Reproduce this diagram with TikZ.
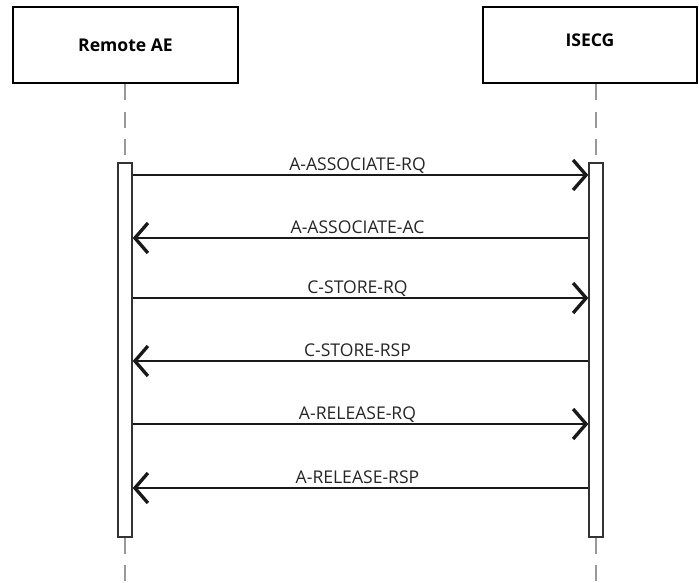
\documentclass[tikz,border=0pt]{standalone}
\usepackage{fontspec}
\setmainfont{Open Sans}
\usetikzlibrary{arrows.meta}
\tikzset{
  actor/.style={draw=black, line width=1.4pt, fill=white, font=\fontsize{10}{12}\selectfont\bfseries, minimum height=1.52cm, inner sep=0pt},
  activity/.style={draw=black!80, line width=0.8pt, fill=white, minimum width=0.28cm, minimum height=7.48cm, inner sep=0pt},
  lifeline/.style={draw=black!40, line width=1.1pt, dash pattern=on 0.32cm off 0.23cm},
  msg/.style={line width=1.5pt, draw=black!90},
  toright/.style={-{Straight Barb[length=0.26cm, width=0.6cm, line width=1.9pt]}},
  toleft/.style={{Straight Barb[length=0.26cm, width=0.6cm, line width=1.9pt]}-},
  msglabel/.style={font=\fontsize{10}{12}\selectfont, text=black!85, anchor=base, inner sep=0pt, yshift=0.1cm}
}
\begin{document}
\begin{tikzpicture}[x=0.02cm, y=-0.02cm]
\useasboundingbox (0,0) rectangle (699,582);
% the two parties
\node[actor, minimum width=4.5cm] (remote) at (125.5,45) {Remote AE};
\node[actor, minimum width=4.28cm, text depth=0.2cm] (isecg) at (590,45) {ISECG};
% activation bars
\node[activity] (barA) at (125,350) {};
\node[activity] (barB) at (596,350) {};
\coordinate (endA) at (125,582);
\coordinate (endB) at (596,582);
\draw[lifeline] (remote.south -| barA) -- (barA.north);
\draw[lifeline] (barA.south) -- (endA);
\draw[lifeline] (isecg.south -| barB) -- (barB.north);
\draw[lifeline] (barB.south) -- (endB);
% messages
\foreach \i/\y/\dir/\txt in {1/175/toright/A-ASSOCIATE-RQ, 2/238/toleft/A-ASSOCIATE-AC,
  3/298/toright/C-STORE-RQ, 4/361/toleft/C-STORE-RSP,
  5/424/toright/A-RELEASE-RQ, 6/488/toleft/A-RELEASE-RSP}{
  \coordinate (a\i) at (barA.east |- 0,\y);
  \coordinate (b\i) at (barB.west |- 0,\y);
  \draw[msg,\dir] (a\i) -- node[msglabel, xshift=-0.06cm] (m\i) {\txt} (b\i);
}
\end{tikzpicture}
\end{document}
